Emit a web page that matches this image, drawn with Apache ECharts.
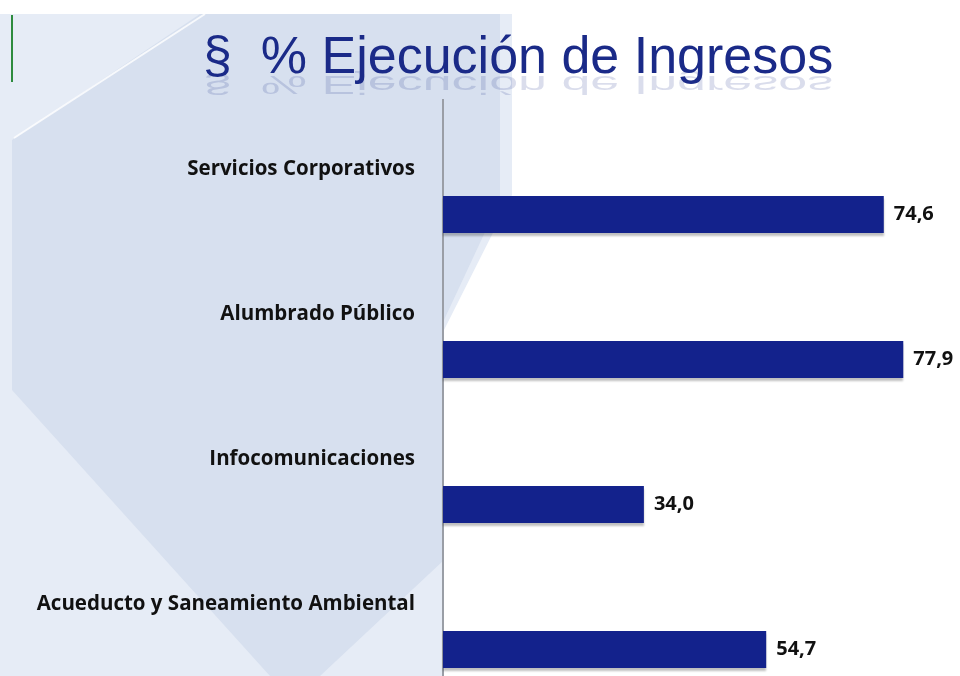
<!DOCTYPE html>
<html>
<head>
<meta charset="utf-8">
<script src="https://cdn.jsdelivr.net/npm/echarts@6/dist/echarts.min.js"></script>
<style>
html,body{margin:0;padding:0;background:#fff;}
#c{width:960px;height:676px;}
</style>
</head>
<body>
<div id="c"></div>
<script>
var categories = ['Servicios Corporativos', 'Alumbrado Público', 'Infocomunicaciones', 'Acueducto y Saneamiento Ambiental'];
var values = [74.6, 77.9, 34.0, 54.7];
var titleText = '§  % Ejecución de Ingresos';

var titleFont = '52px "Liberation Sans", Arial, sans-serif';
var chart = echarts.init(document.getElementById('c'));
chart.setOption({
  backgroundColor: '#ffffff',
  animation: false,
  graphic: [
    { type: 'polygon', z: -10, silent: true,
      shape: { points: [[12,14],[512,14],[512,195],[444,330],[444,676],[0,676],[0,14]] },
      style: { fill: '#e6ecf6' } },
    { type: 'polygon', z: -9, silent: true,
      shape: { points: [[12,140],[200,14],[500,14],[500,200],[444,320],[444,560],[320,676],[270,676],[12,390]] },
      style: { fill: '#d7e0ef' } },
    { type: 'line', z: -8, silent: true,
      shape: { x1: 14, y1: 138, x2: 205, y2: 14 },
      style: { stroke: 'rgba(255,255,255,0.8)', lineWidth: 2 } },
    { type: 'line', z: 5, silent: true,
      shape: { x1: 12, y1: 15, x2: 12, y2: 82 },
      style: { stroke: '#2e8b3e', lineWidth: 2 } },
    { type: 'line', z: 5, silent: true,
      shape: { x1: 443, y1: 99, x2: 443, y2: 142 },
      style: { stroke: '#9a9ea6', lineWidth: 2 } },
    { type: 'text', z: 6, x: 203, y: 33,
      style: { text: titleText, font: titleFont, fill: '#1a2a88' } },
    { type: 'text', z: 5, x: 203, y: 33, originY: 42, scaleY: -0.5,
      style: { text: titleText, font: titleFont, fill: '#1a2a88', opacity: 0.16 } }
  ],
  grid: { left: 443, right: 0, top: 142, height: 580, containLabel: false, outerBoundsMode: 'none' },
  xAxis: { type: 'value', min: 0, max: 87.5, show: false },
  yAxis: {
    type: 'category', data: categories, inverse: true,
    axisLine: { show: true, lineStyle: { color: '#9a9ea6', width: 2 } },
    axisTick: { show: false },
    axisLabel: {
      margin: 28, color: '#111', fontWeight: 'bold', fontSize: 20.5,
      fontFamily: '"Open Sans", sans-serif', lineHeight: 90,
      interval: 0, showMinLabel: true, showMaxLabel: true, hideOverlap: false,
      formatter: function (v) { return v + '\n '; }
    },
    splitLine: { show: false }
  },
  series: [{
    type: 'bar', data: values, barWidth: 37,
    itemStyle: { color: '#13228c', shadowColor: 'rgba(0,0,0,0.25)', shadowOffsetY: 3, shadowBlur: 2 },
    label: {
      show: true, position: 'right', distance: 10, color: '#111', fontWeight: 'bold', fontSize: 20,
      fontFamily: '"Open Sans", sans-serif',
      formatter: function (p) { return p.value.toFixed(1).replace('.', ','); }
    }
  }]
});
</script>
</body>
</html>
